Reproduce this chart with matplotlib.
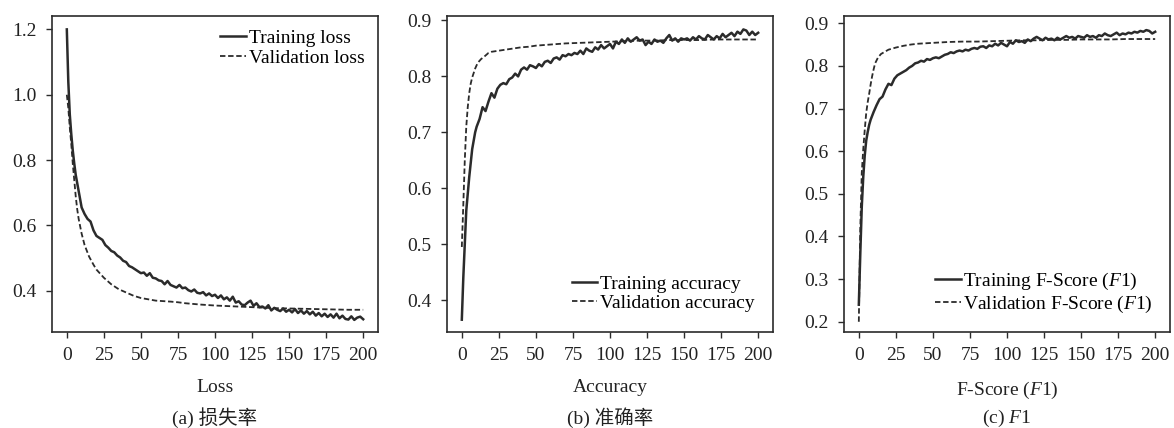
import numpy as np
import matplotlib
matplotlib.use("Agg")
import matplotlib.pyplot as plt

plt.rcParams['font.family'] = ['Liberation Serif', 'Noto Sans CJK SC']
plt.rcParams['mathtext.fontset'] = 'custom'
plt.rcParams['mathtext.it'] = 'Liberation Serif:italic'
plt.rcParams['mathtext.rm'] = 'Liberation Serif'

# ---- epochs ----
ep_train = [0, 1, 2, 3, 4, 5, 6, 7, 8, 9, 10] + list(range(12, 201, 2))

# ---- loss ----
loss_train = [1.20, 1.04, 0.94, 0.88, 0.83, 0.79, 0.755, 0.73, 0.705, 0.68, 0.655,
              0.635, 0.620, 0.612, 0.585, 0.568, 0.562, 0.556, 0.540, 0.532, 0.522,
              0.518, 0.508, 0.502, 0.492, 0.488, 0.476, 0.472, 0.466, 0.460, 0.454,
              0.456, 0.446, 0.454, 0.440, 0.438, 0.432, 0.430, 0.420, 0.430, 0.418,
              0.414, 0.410, 0.418, 0.408, 0.410, 0.402, 0.398, 0.404, 0.394, 0.392,
              0.396, 0.386, 0.392, 0.384, 0.388, 0.378, 0.386, 0.374, 0.380, 0.370,
              0.382, 0.364, 0.368, 0.358, 0.356, 0.364, 0.370, 0.354, 0.362, 0.350,
              0.352, 0.346, 0.356, 0.340, 0.348, 0.342, 0.338, 0.346, 0.336, 0.342,
              0.334, 0.344, 0.332, 0.340, 0.330, 0.338, 0.328, 0.336, 0.324, 0.332,
              0.322, 0.330, 0.320, 0.328, 0.318, 0.330, 0.316, 0.324, 0.314, 0.312,
              0.322, 0.311, 0.318, 0.321, 0.313]
ep_loss_val = [0, 1, 2, 3, 4, 5, 6, 7, 8, 10, 12, 15, 18, 20, 25, 30, 35, 40, 45, 50,
               60, 70, 75, 80, 90, 100, 110, 120, 130, 140, 150, 160, 170, 180, 190, 200]
loss_val = [1.00, 0.96, 0.90, 0.85, 0.79, 0.74, 0.69, 0.65, 0.62, 0.575, 0.54, 0.505,
            0.48, 0.465, 0.44, 0.42, 0.405, 0.395, 0.385, 0.378, 0.370, 0.367, 0.365,
            0.362, 0.358, 0.355, 0.353, 0.351, 0.349, 0.347, 0.346, 0.345, 0.344,
            0.343, 0.342, 0.342]

# ---- accuracy ----
acc_train = [0.365, 0.44, 0.50, 0.56, 0.59, 0.62, 0.645, 0.67, 0.685, 0.70, 0.71,
             0.724, 0.745, 0.738, 0.755, 0.770, 0.762, 0.778, 0.785, 0.788, 0.786,
             0.795, 0.798, 0.805, 0.800, 0.812, 0.816, 0.812, 0.820, 0.818, 0.815,
             0.822, 0.818, 0.826, 0.828, 0.824, 0.832, 0.834, 0.830, 0.838, 0.836,
             0.840, 0.838, 0.842, 0.840, 0.846, 0.840, 0.850, 0.846, 0.844, 0.852,
             0.848, 0.856, 0.850, 0.854, 0.858, 0.850, 0.862, 0.858, 0.866, 0.860,
             0.868, 0.862, 0.866, 0.870, 0.864, 0.866, 0.856, 0.862, 0.858, 0.866,
             0.862, 0.864, 0.860, 0.868, 0.874, 0.864, 0.868, 0.862, 0.868, 0.866,
             0.868, 0.864, 0.870, 0.866, 0.872, 0.868, 0.866, 0.874, 0.870, 0.866,
             0.872, 0.868, 0.876, 0.870, 0.874, 0.878, 0.872, 0.880, 0.876, 0.884,
             0.882, 0.874, 0.880, 0.874, 0.878]
ep_acc_val = [0, 1, 2, 3, 4, 5, 6, 7, 8, 9, 10, 11, 13, 15, 18, 20, 25, 30, 35, 40, 45,
              50, 60, 70, 80, 90, 100, 110, 120, 130, 140, 150, 160, 170, 180, 190, 200]
acc_val = [0.495, 0.57, 0.65, 0.71, 0.745, 0.77, 0.787, 0.798, 0.806, 0.814, 0.820,
           0.825, 0.831, 0.835, 0.842, 0.844, 0.846, 0.848, 0.850, 0.852, 0.853,
           0.855, 0.857, 0.859, 0.860, 0.861, 0.862, 0.863, 0.864, 0.864, 0.865,
           0.865, 0.865, 0.866, 0.866, 0.866, 0.866]

# ---- F1 ----
f1_train = [0.24, 0.36, 0.47, 0.54, 0.59, 0.625, 0.645, 0.662, 0.674, 0.683, 0.692,
            0.708, 0.722, 0.728, 0.745, 0.758, 0.755, 0.770, 0.778, 0.782, 0.786,
            0.790, 0.796, 0.800, 0.806, 0.808, 0.812, 0.810, 0.816, 0.814, 0.818,
            0.820, 0.818, 0.822, 0.826, 0.828, 0.832, 0.830, 0.834, 0.836, 0.834,
            0.838, 0.836, 0.840, 0.842, 0.840, 0.845, 0.846, 0.842, 0.848, 0.846,
            0.852, 0.848, 0.854, 0.850, 0.846, 0.856, 0.852, 0.860, 0.856, 0.858,
            0.854, 0.862, 0.858, 0.864, 0.868, 0.864, 0.860, 0.866, 0.862, 0.864,
            0.860, 0.866, 0.862, 0.866, 0.870, 0.866, 0.868, 0.864, 0.870, 0.868,
            0.866, 0.872, 0.868, 0.870, 0.866, 0.872, 0.870, 0.876, 0.872, 0.870,
            0.874, 0.878, 0.872, 0.876, 0.874, 0.878, 0.876, 0.880, 0.878, 0.882,
            0.880, 0.884, 0.882, 0.876, 0.880]
ep_f1_val = [0, 1, 2, 3, 4, 5, 6, 7, 8, 9, 10, 11, 13, 15, 18, 20, 25, 30, 35, 40, 50,
             60, 70, 80, 90, 100, 110, 120, 130, 140, 150, 160, 170, 180, 190, 200]
f1_val = [0.20, 0.42, 0.55, 0.605, 0.65, 0.69, 0.715, 0.735, 0.757, 0.776, 0.792,
          0.806, 0.820, 0.828, 0.834, 0.838, 0.843, 0.847, 0.850, 0.852, 0.854,
          0.856, 0.857, 0.857, 0.858, 0.859, 0.860, 0.860, 0.861, 0.861, 0.862,
          0.862, 0.862, 0.863, 0.863, 0.863]

xticks = [0, 25, 50, 75, 100, 125, 150, 175, 200]
fs = 14
col = '#2b2b2b'

panels = [
    dict(left=52, tr=loss_train, ev=ep_loss_val, va=loss_val,
         yl=(0.274, 1.241), yt=[0.4, 0.6, 0.8, 1.0, 1.2],
         labels=('Training loss', 'Validation loss'), loc='upper right',
         anchor=(1.0, 1.0), xlabel='Loss', cap='(a) 损失率'),
    dict(left=447, tr=acc_train, ev=ep_acc_val, va=acc_val,
         yl=(0.343, 0.908), yt=[0.4, 0.5, 0.6, 0.7, 0.8, 0.9],
         labels=('Training accuracy', 'Validation accuracy'), loc='lower right',
         anchor=(0.985, 0.02), xlabel='Accuracy', cap='(b) 准确率'),
    dict(left=844, tr=f1_train, ev=ep_f1_val, va=f1_val,
         yl=(0.176, 0.917), yt=[0.2, 0.3, 0.4, 0.5, 0.6, 0.7, 0.8, 0.9],
         labels=(r'Training F-Score ($F$1)', r'Validation F-Score ($F$1)'),
         loc='lower right', anchor=(0.99, 0.012), xlabel=r'F-Score ($F$1)',
         cap=r'(c) $F$1'),
]

W, H = 1174, 428
fig = plt.figure(figsize=(W / 100, H / 100), dpi=100)

for p in panels:
    left = p['left']
    ax = fig.add_axes([left / W, (H - 332) / H, 326 / W, 316 / H])
    ax.plot(ep_train, p['tr'], color=col, lw=1.8, label=p['labels'][0])
    ax.plot(p['ev'], p['va'], color=col, lw=1.3, ls=(0, (3, 1.5)), label=p['labels'][1])
    ax.set_xlim(-10, 210)
    ax.set_ylim(*p['yl'])
    ax.set_xticks(xticks)
    ax.set_yticks(p['yt'])
    ax.set_yticklabels(['%.1f' % v for v in p['yt']])
    ax.tick_params(direction='out', length=4, width=1, colors=col, labelcolor='#222222',
                   labelsize=fs)
    ax.tick_params(axis='x', pad=7)
    ax.tick_params(axis='y', pad=7)
    for s in ax.spines.values():
        s.set_color(col)
        s.set_linewidth(1.2)
    ax.set_xlabel(p['xlabel'], fontsize=fs, color='#222222')
    ax.xaxis.set_label_coords(0.5, -0.15)
    ax.legend(loc=p['loc'], bbox_to_anchor=p['anchor'], frameon=False, fontsize=fs,
              handlelength=1.3, handletextpad=0.15, labelspacing=0.1,
              borderaxespad=0.3)
    cx = (left + 163) / W
    fig.text(cx, (H - 418) / H, p['cap'], ha='center', va='center', fontsize=fs,
             color='#222222')

fig.savefig('out.png', dpi=100)
